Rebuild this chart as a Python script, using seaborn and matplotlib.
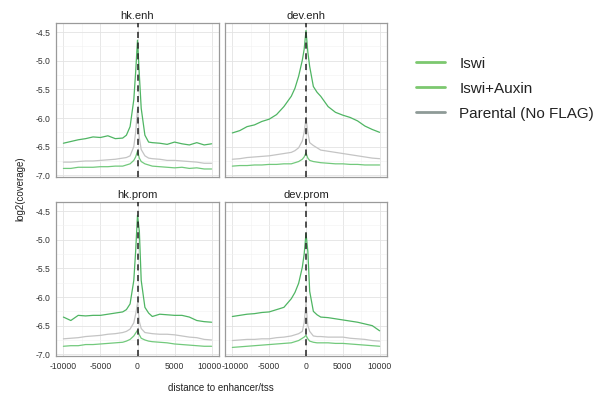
import numpy as np
import pandas as pd
import matplotlib
matplotlib.use("Agg")
import matplotlib.pyplot as plt
import matplotlib.transforms as mtransforms
from matplotlib.lines import Line2D
from matplotlib.ticker import MultipleLocator
import seaborn as sns

sns.set_theme(style="white")
plt.rcParams['font.family'] = ['Liberation Sans', 'DejaVu Sans']

# ---- data ----
positions = [-10000, -9000, -8000, -7000, -6000, -5000, -4000, -3000, -2000, -1500,
             -1000, -500, -250, 0, 250, 500, 1000, 1500, 2000, 3000, 4000, 5000,
             6000, 7000, 8000, 9000, 10000]

panels = ["hk.enh", "dev.enh", "hk.prom", "dev.prom"]
conditions = ["Iswi", "Iswi+Auxin", "Parental (No FLAG)"]

hk_enh_iswi = [-6.44, -6.41, -6.38, -6.36, -6.33, -6.34, -6.31, -6.36, -6.35, -6.30,
               -6.15, -5.68, -5.20, -4.64, -5.25, -5.83, -6.30, -6.42, -6.43, -6.44,
               -6.46, -6.42, -6.45, -6.47, -6.43, -6.47, -6.45]
hk_enh_aux = [-6.88, -6.88, -6.86, -6.86, -6.86, -6.85, -6.85, -6.84, -6.84, -6.82,
              -6.80, -6.74, -6.68, -6.58, -6.70, -6.76, -6.80, -6.82, -6.84, -6.85,
              -6.86, -6.87, -6.86, -6.88, -6.87, -6.89, -6.89]
hk_enh_par = [-6.77, -6.77, -6.76, -6.75, -6.75, -6.74, -6.73, -6.72, -6.70, -6.69,
              -6.66, -6.50, -6.25, -5.85, -6.35, -6.55, -6.66, -6.70, -6.71, -6.72,
              -6.74, -6.74, -6.75, -6.76, -6.77, -6.79, -6.79]

dev_enh_iswi = [-6.26, -6.22, -6.15, -6.12, -6.06, -6.02, -5.94, -5.80, -5.62, -5.48,
                -5.27, -4.99, -4.80, -4.47, -4.85, -5.10, -5.45, -5.55, -5.62, -5.80,
                -5.90, -5.95, -5.99, -6.05, -6.14, -6.20, -6.25]
dev_enh_aux = [-6.84, -6.83, -6.83, -6.82, -6.82, -6.81, -6.81, -6.80, -6.80, -6.78,
               -6.76, -6.72, -6.68, -6.61, -6.70, -6.74, -6.76, -6.77, -6.78, -6.79,
               -6.80, -6.80, -6.81, -6.81, -6.82, -6.82, -6.82]
dev_enh_par = [-6.72, -6.71, -6.69, -6.68, -6.67, -6.66, -6.64, -6.62, -6.60, -6.57,
               -6.52, -6.40, -6.25, -6.00, -6.25, -6.43, -6.48, -6.52, -6.56, -6.58,
               -6.60, -6.62, -6.64, -6.66, -6.68, -6.70, -6.71]

hk_prom_iswi = [-6.35, -6.41, -6.32, -6.33, -6.32, -6.32, -6.30, -6.28, -6.26, -6.22,
                -6.12, -5.71, -5.20, -4.57, -4.85, -5.71, -6.18, -6.28, -6.34, -6.30,
                -6.31, -6.32, -6.32, -6.35, -6.41, -6.43, -6.44]
hk_prom_aux = [-6.86, -6.85, -6.85, -6.83, -6.83, -6.82, -6.81, -6.80, -6.79, -6.77,
               -6.74, -6.68, -6.63, -6.58, -6.66, -6.72, -6.75, -6.77, -6.78, -6.79,
               -6.80, -6.82, -6.83, -6.84, -6.85, -6.86, -6.86]
hk_prom_par = [-6.73, -6.72, -6.71, -6.69, -6.68, -6.67, -6.65, -6.64, -6.62, -6.60,
               -6.56, -6.45, -6.30, -6.11, -6.43, -6.55, -6.62, -6.63, -6.64, -6.65,
               -6.65, -6.66, -6.68, -6.70, -6.71, -6.74, -6.75]

dev_prom_iswi = [-6.34, -6.32, -6.30, -6.29, -6.27, -6.26, -6.22, -6.18, -6.03, -5.92,
                 -5.76, -5.48, -5.25, -4.89, -5.20, -5.90, -6.25, -6.31, -6.35, -6.36,
                 -6.38, -6.40, -6.42, -6.44, -6.47, -6.50, -6.59]
dev_prom_aux = [-6.88, -6.87, -6.86, -6.85, -6.84, -6.83, -6.82, -6.81, -6.80, -6.78,
                -6.76, -6.72, -6.70, -6.67, -6.73, -6.77, -6.79, -6.80, -6.80, -6.80,
                -6.81, -6.81, -6.82, -6.83, -6.84, -6.85, -6.86]
dev_prom_par = [-6.76, -6.75, -6.74, -6.74, -6.73, -6.73, -6.71, -6.70, -6.68, -6.66,
                -6.64, -6.60, -6.45, -6.11, -6.50, -6.60, -6.68, -6.69, -6.69, -6.70,
                -6.70, -6.70, -6.72, -6.73, -6.74, -6.76, -6.77]

series = {
    "hk.enh": [hk_enh_iswi, hk_enh_aux, hk_enh_par],
    "dev.enh": [dev_enh_iswi, dev_enh_aux, dev_enh_par],
    "hk.prom": [hk_prom_iswi, hk_prom_aux, hk_prom_par],
    "dev.prom": [dev_prom_iswi, dev_prom_aux, dev_prom_par],
}

x_ticks = [-10000, -5000, 0, 5000, 10000]
x_ticklabels = ["-10000", "-5000", "0", "5000", "10000"]
y_ticks = [-4.5, -5.0, -5.5, -6.0, -6.5, -7.0]
y_ticklabels = ["-4.5", "-5.0", "-5.5", "-6.0", "-6.5", "-7.0"]

rows = []
for p in panels:
    for c, vals in zip(conditions, series[p]):
        for x, v in zip(positions, vals):
            rows.append({"panel": p, "condition": c, "distance": x, "value": v})
df = pd.DataFrame(rows)

line_colors = {"Iswi": "#4fb563", "Iswi+Auxin": "#72c97c", "Parental (No FLAG)": "#c4c4c4"}
legend_colors = {"Iswi": "#7cc86f", "Iswi+Auxin": "#7cc86f", "Parental (No FLAG)": "#8e9a97"}

fig = plt.figure(figsize=(6.16, 4.01), dpi=100)
W, H = 616, 401
boxes = {
    "hk.enh": (56, 23, 219, 177),
    "dev.enh": (225, 23, 387, 177),
    "hk.prom": (56, 202, 219, 356),
    "dev.prom": (225, 202, 387, 356),
}
axes = {}
for p in panels:
    x0, y0, x1, y1 = boxes[p]
    ax = fig.add_axes([x0 / W, 1 - y1 / H, (x1 - x0) / W, (y1 - y0) / H])
    axes[p] = ax
    sub = df[df.panel == p]
    # draw parental first so greens are on top
    for c in ["Parental (No FLAG)", "Iswi+Auxin", "Iswi"]:
        sns.lineplot(data=sub[sub.condition == c], x="distance", y="value",
                     color=line_colors[c], lw=0.9, ax=ax, legend=False)
    ax.axvline(0, color="#222222", ls=(0, (4, 3)), lw=1.1, zorder=5)
    ax.set_xlim(-11000, 11000)
    ax.set_ylim(-7.03, -4.34)
    ax.set_xticks(x_ticks)
    ax.set_yticks(y_ticks)
    ax.xaxis.set_minor_locator(MultipleLocator(2500))
    ax.yaxis.set_minor_locator(MultipleLocator(0.25))
    ax.grid(True, which="major", color="#e3e3e3", lw=0.6)
    ax.grid(True, which="minor", color="#f1f1f1", lw=0.4)
    ax.set_axisbelow(True)
    for s in ax.spines.values():
        s.set_color("#9a9a9a")
        s.set_linewidth(0.9)
    ax.tick_params(axis="both", which="major", length=2, width=0.6, color="#9a9a9a",
                   labelsize=6.2, labelcolor="#333333", pad=2)
    ax.tick_params(which="minor", length=0)
    if p in ("hk.enh", "hk.prom"):
        ax.set_yticklabels(y_ticklabels)
    else:
        ax.set_yticklabels([])
    if p in ("hk.prom", "dev.prom"):
        ax.set_xticklabels(x_ticklabels)
    else:
        ax.set_xticklabels([])
    ax.set_xlabel("")
    ax.set_ylabel("")
    ax.set_title(p, fontsize=8, color="#222222", pad=3)

# nudge the two touching tick labels between the bottom panels slightly apart
lab_r = axes["hk.prom"].get_xticklabels()[-1]
lab_r.set_transform(lab_r.get_transform() + mtransforms.ScaledTranslation(-2.5 / 100, 0, fig.dpi_scale_trans))
lab_l = axes["dev.prom"].get_xticklabels()[0]
lab_l.set_transform(lab_l.get_transform() + mtransforms.ScaledTranslation(2.5 / 100, 0, fig.dpi_scale_trans))

fig.text(221 / W, 1 - 388 / H, "distance to enhancer/tss", ha="center", va="center",
         fontsize=7, color="#222222")
fig.text(20 / W, 1 - 189 / H, "log2(coverage)", ha="center", va="center",
         rotation=90, fontsize=7, color="#222222")

handles = [Line2D([0], [0], color=legend_colors[c], lw=2) for c in conditions]
fig.legend(handles, conditions, loc="upper left", bbox_to_anchor=(402 / W, 1 - 43 / H),
           frameon=False, fontsize=11, handlelength=1.9, handletextpad=0.95,
           labelspacing=0.72, labelcolor="#222222")

fig.savefig("out.png", dpi=100)
